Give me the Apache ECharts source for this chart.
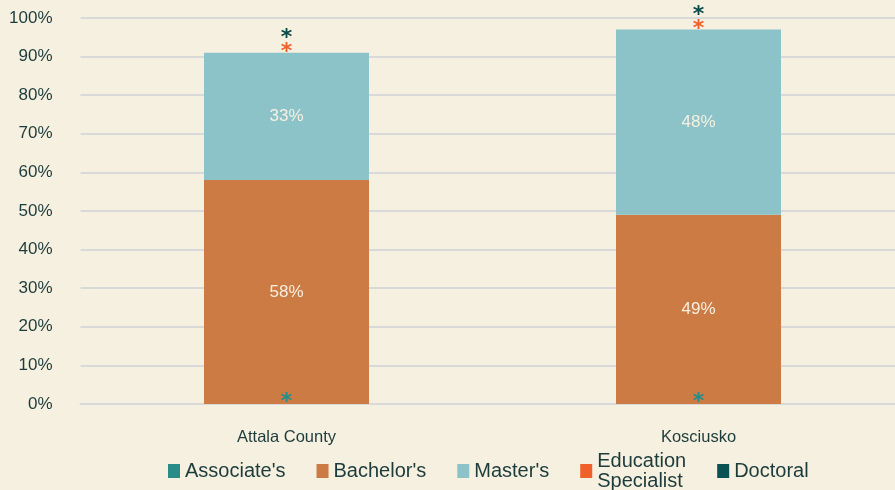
<!DOCTYPE html>
<html>
<head>
<meta charset="utf-8">
<script src="https://cdn.jsdelivr.net/npm/echarts@6/dist/echarts.min.js"></script>
<style>
html,body{margin:0;padding:0;background:#F6F0E0;overflow:hidden;}
#c{width:910px;height:490px;}
</style>
</head>
<body>
<div id="c"></div>
<script>
const categories = ['Attala County', 'Kosciusko'];
const associates = [0.001, 0.001];
const bachelors = [58, 49];
const masters = [33, 48];
const eduSpecialist = [0.001, 0.001];
const doctoral = [0.001, 0.001];
const yTicks = [0, 10, 20, 30, 40, 50, 60, 70, 80, 90, 100];

const chart = echarts.init(document.getElementById('c'));
const font = '"Liberation Sans", Arial, sans-serif';
const textColor = '#1C3B3B';

function star(color, pos, offset) {
  return {
    show: true, position: pos, formatter: '*', color: color,
    fontSize: 22, fontWeight: 'bold', fontFamily: 'DejaVu Sans', offset: offset
  };
}
function pct() {
  return { show: true, position: 'inside', formatter: p => Math.round(p.value) + '%',
    color: '#F6F0E0', fontSize: 17, fontFamily: font };
}

chart.setOption({
  backgroundColor: '#F6F0E0',
  animation: false,
  grid: { left: 80.5, top: 18, width: 824, height: 386, containLabel: false },
  legend: {
    top: 446, left: 163,
    itemWidth: 12, itemHeight: 14, itemGap: 31,
    icon: 'rect',
    textStyle: { color: textColor, fontSize: 20, fontFamily: font, lineHeight: 20, padding: [0, 0, 0, 0] },
    data: ["Associate's", "Bachelor's", "Master's", 'Education\nSpecialist', 'Doctoral']
  },
  xAxis: {
    type: 'category', data: categories,
    axisLine: { show: true, lineStyle: { color: '#D9D9D9', width: 2 } },
    axisTick: { show: false },
    axisLabel: { color: textColor, fontSize: 16.5, fontFamily: font, margin: 25 }
  },
  yAxis: {
    type: 'value', min: 0, max: 100, interval: 10,
    axisLine: { show: false }, axisTick: { show: false },
    splitLine: { lineStyle: { color: '#D9D9D9', width: 2 } },
    axisLabel: { color: textColor, fontSize: 17, fontFamily: font, margin: 28,
      formatter: v => yTicks.includes(v) ? v + '%' : '' }
  },
  series: [
    { name: "Associate's", type: 'bar', stack: 's', barWidth: 165, data: associates,
      itemStyle: { color: '#2A8C88' }, label: star('#2A8C88', 'insideBottom', [0, 14]) },
    { name: "Bachelor's", type: 'bar', stack: 's', data: bachelors,
      itemStyle: { color: '#CD7B44' }, label: pct() },
    { name: "Master's", type: 'bar', stack: 's', data: masters,
      itemStyle: { color: '#8BC3C9' }, label: pct() },
    { name: 'Education\nSpecialist', type: 'bar', stack: 's', data: eduSpecialist,
      itemStyle: { color: '#F0602A' }, label: star('#F0602A', 'top', [0, 16]) },
    { name: 'Doctoral', type: 'bar', stack: 's', data: doctoral,
      itemStyle: { color: '#0B5352' }, label: star('#0B4A4A', 'top', [0, 2]) }
  ]
});
</script>
</body>
</html>
